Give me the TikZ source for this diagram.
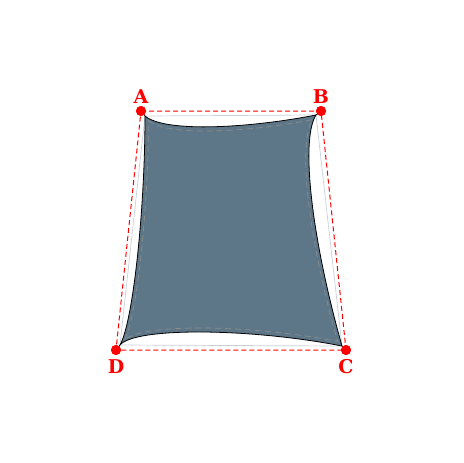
\documentclass[tikz,border=0pt]{standalone}
\usepackage{fontspec}
\setmainfont{DejaVu Serif}
\usetikzlibrary{positioning}
\definecolor{sailfill}{RGB}{94,119,136}
\definecolor{framegray}{RGB}{200,208,216}
\definecolor{hemgray}{RGB}{140,140,140}
\tikzset{
    corner/.style={circle, fill=red, inner sep=0pt, minimum size=10pt},
    cornerlabel/.style={text=red, font=\fontsize{19}{19}\selectfont\bfseries},
    rope/.style={red, dashed, line width=1pt, dash pattern=on 5pt off 3pt},
}

\begin{document}
\begin{tikzpicture}[x=1pt, y=-1pt]
        \useasboundingbox (0,0) rectangle (463,463);

        % anchor points
        \node [corner, label={[cornerlabel, label distance=-1pt]above:A}] (A) at (141,111) {};
        \node [corner, label={[cornerlabel, label distance=-1pt]above:B}] (B) at (321,111) {};
        \node [corner, label={[cornerlabel, label distance=1pt]below:C}] (C) at (346,350) {};
        \node [corner, label={[cornerlabel, label distance=1pt]below:D}] (D) at (116,350) {};

        % sail corners
        \coordinate (a) at (145,116);
        \coordinate (b) at (316,115);
        \coordinate (c) at (342,346);
        \coordinate (d) at (120,345);

        \draw [framegray, line width=0.7pt] (a)--(b)--(c)--(d)--cycle;

        \draw [fill=sailfill, line width=0.8pt] (a)
            .. controls (165,133) and (250,128) .. (b)
            .. controls (300,140) and (312,240) .. (c)
            .. controls (250,328) and (135,327) .. (d)
            .. controls (133,322) and (145,210) .. (a) -- cycle;

        % hem
        \draw [hemgray, dashed, line width=0.7pt, dash pattern=on 6pt off 4pt] (148.4,120.6)
            .. controls (167.6,136.9) and (249.2,132.1) .. (312.6,119.6)
            .. controls (297.2,143.6) and (308.8,239.6) .. (337.6,341.4)
            .. controls (249.2,324.2) and (138.8,323.2) .. (124.4,340.4)
            .. controls (136.4,318.3) and (148.4,210.8) .. cycle;

        \draw [rope] (A.center)--(B.center)--(C.center)--(D.center)--cycle;

        \draw [line width=0.6pt] (A.center)--(a);
        \draw [line width=0.6pt] (B.center)--(b);
        \draw [line width=0.6pt] (C.center)--(c);
        \draw [line width=0.6pt] (D.center)--(d);

        \foreach \p in {A,B,C,D}
            \fill [red] (\p) circle (5pt);
    \end{tikzpicture}
\end{document}
